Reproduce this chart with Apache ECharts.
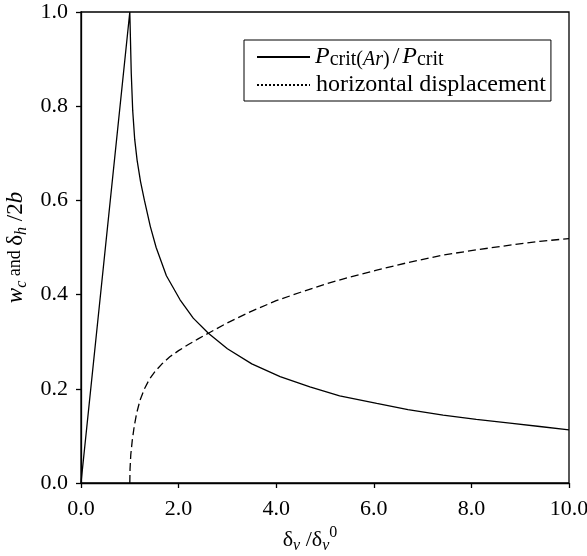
<!DOCTYPE html>
<html lang="en">
<head>
    <meta charset="UTF-8">
    <title>critical load ratio</title>
    <script src="https://cdn.jsdelivr.net/npm/echarts@6/dist/echarts.min.js"></script>
</head>
<style>
    html,body{
        padding: 0;
        margin: 0;
        background: #fff;
    }
</style>
<body>
<div id="chart" style="width: 587px;height:556px;"></div>
</body>
<script type="text/javascript">
    // solid curve: P_crit(Ar)/P_crit
    var solidX = [0, 1, 1.03, 1.06, 1.1, 1.15, 1.22, 1.3, 1.42, 1.54, 1.75, 2.03, 2.3, 2.61, 3.0, 3.5, 4.08, 4.69, 5.3, 6.06, 6.7, 7.42, 8.1, 8.79, 9.4, 10];
    var solidY = [0, 1, 0.87, 0.79, 0.73, 0.685, 0.64, 0.6, 0.545, 0.5, 0.44, 0.389, 0.35, 0.318, 0.285, 0.253, 0.226, 0.204, 0.185, 0.169, 0.156, 0.144, 0.135, 0.127, 0.12, 0.113];
    // dashed curve: horizontal displacement
    var dashX = [1, 1.005, 1.02, 1.05, 1.09, 1.14, 1.21, 1.3, 1.4, 1.52, 1.66, 1.82, 2.0, 2.2, 2.4, 2.61, 3.0, 3.5, 4.0, 4.5, 5.0, 5.5, 6.06, 6.7, 7.42, 8.1, 8.79, 9.4, 10];
    var dashY = [0, 0.03, 0.06, 0.09, 0.12, 0.148, 0.176, 0.2, 0.22, 0.237, 0.253, 0.268, 0.281, 0.294, 0.306, 0.318, 0.34, 0.365, 0.387, 0.405, 0.422, 0.437, 0.452, 0.468, 0.484, 0.495, 0.505, 0.513, 0.519];
    var seriesNames = ['Pcrit(Ar)/Pcrit', 'horizontal displacement'];

    var serif = '"Liberation Serif", "DejaVu Serif", serif';

    function pairs(xs, ys) {
        var out = [];
        for (var i = 0; i < xs.length; i++) out.push([xs[i], ys[i]]);
        return out;
    }

    var myChart = echarts.init(document.getElementById('chart'));

    var option = {
        animation: false,
        textStyle: {fontFamily: serif, color: '#000'},
        grid: {
            left: 81, right: 18, top: 12, bottom: 73,
            show: true, borderColor: '#000', borderWidth: 1.3,
            containLabel: false, outerBoundsMode: 'none'
        },
        legend: {
            orient: 'vertical',
            left: 244,
            top: 40,
            padding: [4, 4, 4, 12],
            itemGap: 3,
            itemWidth: 53,
            itemHeight: 2,
            borderColor: '#000',
            borderWidth: 1,
            backgroundColor: '#fff',
            itemStyle: {opacity: 0},
            data: [
                {name: seriesNames[0]},
                {name: seriesNames[1], lineStyle: {type: [2, 2]}}
            ],
            formatter: function (name) {
                if (name === seriesNames[0]) {
                    return '{i|P}{s|crit(}{si|Ar}{s|)}{sl|/}{i|P}{s|crit}';
                }
                return '{n|' + name + '}';
            },
            textStyle: {
                fontFamily: serif,
                color: '#000',
                rich: {
                    i: {fontFamily: serif, fontSize: 24, fontStyle: 'italic', lineHeight: 26},
                    n: {fontFamily: serif, fontSize: 24, lineHeight: 26, padding: [0, 1, 0, 1]},
                    sl: {fontFamily: serif, fontSize: 24, lineHeight: 26, padding: [0, 3, 0, 3]},
                    s: {fontFamily: serif, fontSize: 20, lineHeight: 20, padding: [6, 0, 0, 0]},
                    si: {fontFamily: serif, fontSize: 20, fontStyle: 'italic', lineHeight: 20, padding: [6, 0, 0, 0]}
                }
            }
        },
        xAxis: {
            type: 'value',
            min: 0,
            max: 10,
            interval: 2,
            splitLine: {show: false},
            axisLine: {onZero: false, lineStyle: {color: '#000', width: 1.3}},
            axisTick: {inside: false, length: 5, lineStyle: {color: '#000', width: 1.3}},
            axisLabel: {
                margin: 15, fontSize: 22, fontFamily: serif, color: '#000',
                formatter: function (v) { return v.toFixed(1); }
            },
            name: '{g|δ}{si|v}{g| /δ}{si|v}{sup|0}',
            nameLocation: 'middle',
            nameGap: 45,
            nameTextStyle: {
                padding: [0, 30, 0, 0],
                rich: {
                    g: {fontFamily: serif, fontSize: 22, lineHeight: 24, color: '#000'},
                    si: {fontFamily: serif, fontSize: 16, fontStyle: 'italic', lineHeight: 16, padding: [12, 0, 0, 0], color: '#000'},
                    sup: {fontFamily: serif, fontSize: 16, lineHeight: 16, padding: [0, 0, 14, 0], color: '#000'}
                }
            }
        },
        yAxis: {
            type: 'value',
            min: 0,
            max: 1,
            interval: 0.2,
            splitLine: {show: false},
            axisLine: {onZero: false, lineStyle: {color: '#000', width: 1.3}},
            axisTick: {inside: false, length: 5, lineStyle: {color: '#000', width: 1.3}},
            axisLabel: {
                margin: 13, fontSize: 22, fontFamily: serif, color: '#000',
                formatter: function (v) { return v.toFixed(1); }
            },
            name: '{i|w}{si|c}{sm| and }{g|δ}{si|h}{g| /2}{i|b}',
            nameLocation: 'middle',
            nameRotate: 90,
            nameGap: 50,
            nameTextStyle: {
                rich: {
                    i: {fontFamily: serif, fontSize: 23, fontStyle: 'italic', lineHeight: 24, color: '#000'},
                    g: {fontFamily: serif, fontSize: 23, lineHeight: 24, color: '#000'},
                    sm: {fontFamily: serif, fontSize: 18, lineHeight: 24, color: '#000'},
                    si: {fontFamily: serif, fontSize: 16, fontStyle: 'italic', lineHeight: 16, padding: [12, 0, 0, 0], color: '#000'}
                }
            }
        },
        series: [
            {
                name: seriesNames[0],
                type: 'line',
                data: pairs(solidX, solidY),
                showSymbol: false,
                symbol: 'none',
                lineStyle: {color: '#000', width: 1.3, type: 'solid'},
                itemStyle: {color: '#000'}
            },
            {
                name: seriesNames[1],
                type: 'line',
                data: pairs(dashX, dashY),
                showSymbol: false,
                symbol: 'none',
                lineStyle: {color: '#000', width: 1.3, type: [8, 4]},
                itemStyle: {color: '#000'}
            }
        ]
    };

    myChart.setOption(option);
</script>
</html>
